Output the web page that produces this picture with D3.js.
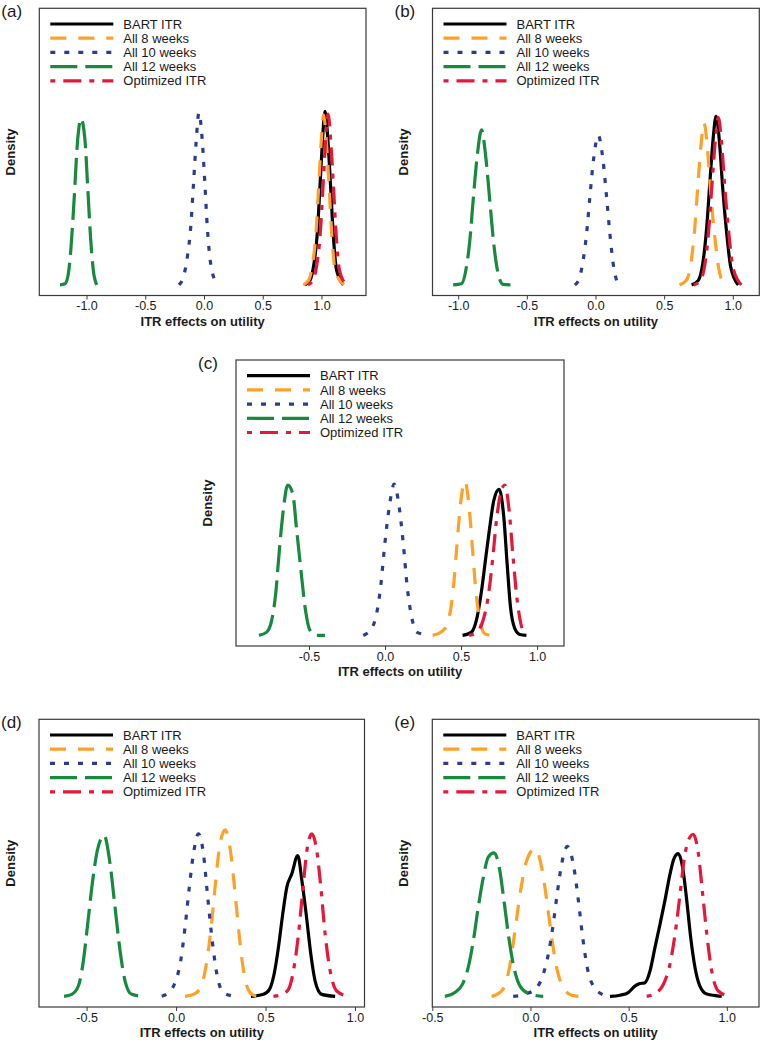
<!DOCTYPE html>
<html><head><meta charset="utf-8">
<script src="https://cdn.jsdelivr.net/npm/d3@7"></script>
<style>body{margin:0;background:#fff}svg{display:block}text{font-family:"Liberation Sans",Arial,sans-serif;fill:#1a1a1a}</style>
</head><body><svg id="chart" width="762" height="1041"></svg>
<script>
const seriesNames = ["BART ITR","All 8 weeks","All 10 weeks","All 12 weeks","Optimized ITR"];
const panelLabels = ["(a)","(b)","(c)","(d)","(e)"];
const xTicksAB = [-1.0,-0.5,0.0,0.5,1.0];
const xTickLabelsAB = ["-1.0","-0.5","0.0","0.5","1.0"];
const xTicksCDE = [-0.5,0.0,0.5,1.0];
const xTickLabelsCDE = ["-0.5","0.0","0.5","1.0"];
const xTitle = "ITR effects on utility";
const yTitle = "Density";

// Panel (a)
const aBartX=[0.860,0.902,0.936,0.964,0.987,1.007,1.030,1.055,1.078,1.100,1.129,1.186];
const aBartY=[0,0.20,0.95,2.30,4.41,6.37,7.83,6.50,4.41,2.30,0.65,0];
const aW8X=[0.845,0.890,0.924,0.952,0.975,0.995,1.018,1.043,1.066,1.088,1.117,1.190];
const aW8Y=[0,0.20,0.93,2.25,4.32,6.24,7.67,6.37,4.32,2.25,0.64,0];
const aW10X=[-0.213,-0.176,-0.142,-0.113,-0.091,-0.068,-0.043,-0.017,0.006,0.028,0.057,0.113];
const aW10Y=[0,0.35,1.25,2.61,4.41,6.37,7.77,6.67,4.71,2.61,0.95,0];
const aW12X=[-1.226,-1.183,-1.155,-1.132,-1.106,-1.078,-1.047,-1.013,-0.990,-0.964,-0.942,-0.913];
const aW12Y=[0,0.05,0.50,1.70,3.81,6.37,7.50,6.52,4.41,2.01,0.65,0];
const aOptX=[0.885,0.927,0.961,0.989,1.012,1.032,1.055,1.080,1.103,1.125,1.154,1.214];
const aOptY=[0,0.20,0.94,2.27,4.34,6.27,7.71,6.40,4.34,2.27,0.64,0];
// Panel (b)
const bBartX=[0.700,0.749,0.781,0.810,0.834,0.858,0.878,0.902,0.926,0.956,0.985,1.040];
const bBartY=[0,0.17,0.79,2.17,3.93,5.56,6.34,5.43,3.68,1.92,0.67,0];
const bW8X=[0.612,0.661,0.693,0.722,0.746,0.770,0.790,0.814,0.838,0.868,0.897,0.935];
const bW8Y=[0,0.16,0.76,2.08,3.77,5.34,6.09,5.21,3.53,1.84,0.64,0];
const bW10X=[-0.150,-0.119,-0.090,-0.065,-0.041,-0.012,0.020,0.052,0.081,0.105,0.129,0.165];
const bW10Y=[0,0.23,0.92,1.92,3.30,4.81,5.62,4.81,3.30,1.92,0.79,0];
const bW12X=[-1.037,-0.976,-0.940,-0.915,-0.891,-0.862,-0.830,-0.799,-0.770,-0.741,-0.709,-0.673,-0.619];
const bW12Y=[0,0.04,0.67,1.67,3.18,4.81,5.83,4.81,3.18,1.55,0.42,0.02,0];
const bOptX=[0.716,0.765,0.797,0.826,0.850,0.874,0.894,0.918,0.942,0.972,1.001,1.062];
const bOptY=[0,0.17,0.78,2.15,3.90,5.51,6.29,5.38,3.65,1.90,0.66,0];
// Panel (c)
const cBartX=[0.510,0.569,0.606,0.635,0.663,0.689,0.716,0.750,0.781,0.803,0.825,0.853,0.886,0.930];
const cBartY=[0,0.10,0.56,1.36,2.37,3.28,4.09,4.41,3.58,2.17,0.86,0.21,0.03,0];
const cW8X=[0.313,0.382,0.422,0.448,0.470,0.497,0.525,0.553,0.576,0.597,0.624,0.656,0.711];
const cW8Y=[0,0.15,0.56,1.36,2.57,3.99,4.67,3.88,2.57,1.36,0.46,0.05,0];
const cW10X=[-0.143,-0.088,-0.055,-0.029,-0.001,0.028,0.060,0.093,0.120,0.146,0.175,0.208,0.295];
const cW10Y=[0,0.21,0.66,1.46,2.78,3.88,4.57,3.88,2.78,1.46,0.56,0.10,0];
const cW12X=[-0.829,-0.778,-0.745,-0.719,-0.695,-0.669,-0.640,-0.607,-0.581,-0.553,-0.526,-0.493,-0.449,-0.395];
const cW12Y=[0,0.10,0.46,1.26,2.57,3.78,4.54,4.29,3.18,1.97,0.86,0.15,0,0];
const cOptX=[0.553,0.602,0.645,0.678,0.707,0.733,0.760,0.788,0.816,0.842,0.869,0.893,0.919];
const cOptY=[0,0.10,0.46,1.16,2.27,3.48,4.29,4.54,3.78,2.37,1.06,0.36,0];
// Panel (d)
const dBartX=[0.418,0.488,0.522,0.548,0.572,0.596,0.619,0.647,0.680,0.703,0.727,0.753,0.777,0.814,0.889];
const dBartY=[0,0.06,0.21,0.67,1.47,2.47,3.28,3.68,4.23,3.48,2.47,1.27,0.46,0.06,0];
const dW8X=[0.050,0.106,0.144,0.172,0.196,0.218,0.240,0.274,0.306,0.330,0.354,0.380,0.414,0.451];
const dW8Y=[0,0.08,0.36,1.07,2.07,3.28,4.38,5.00,4.28,3.08,1.77,0.67,0.11,0];
const dW10X=[-0.080,-0.043,-0.006,0.026,0.050,0.074,0.097,0.125,0.153,0.175,0.200,0.228,0.264,0.330];
const dW10Y=[0,0.11,0.41,1.07,2.07,3.28,4.28,4.88,4.28,3.08,1.77,0.67,0.11,0];
const dW12X=[-0.626,-0.583,-0.546,-0.518,-0.494,-0.466,-0.440,-0.402,-0.369,-0.341,-0.313,-0.285,-0.248,-0.183];
const dW12Y=[0,0.06,0.31,1.07,2.17,3.48,4.38,4.83,3.98,2.67,1.37,0.46,0.06,0];
const dOptX=[0.544,0.591,0.628,0.656,0.684,0.708,0.731,0.759,0.786,0.809,0.833,0.861,0.898,0.963];
const dOptY=[0,0.06,0.21,0.77,1.87,3.18,4.38,4.88,4.38,3.28,1.87,0.77,0.16,0];
// Panel (e)
const eBartX=[0.405,0.456,0.498,0.532,0.554,0.583,0.609,0.634,0.660,0.685,0.711,0.731,0.753,0.775,0.796,0.816,0.838,0.863,0.898,0.974];
const eBartY=[0,0.03,0.10,0.27,0.33,0.36,0.67,1.28,1.90,2.52,3.22,3.62,3.75,3.39,2.52,1.55,0.76,0.27,0.06,0];
const eW8X=[-0.198,-0.155,-0.125,-0.101,-0.079,-0.053,-0.019,0.023,0.057,0.083,0.108,0.133,0.167,0.210,0.244];
const eW8Y=[0,0.10,0.36,0.93,1.72,2.69,3.57,3.88,3.39,2.52,1.55,0.76,0.23,0.03,0];
const eW10X=[-0.088,-0.019,0.032,0.065,0.091,0.116,0.136,0.159,0.188,0.218,0.244,0.266,0.289,0.320,0.363,0.405];
const eW10Y=[0,0.07,0.23,0.58,1.11,1.90,2.69,3.48,3.94,3.48,2.52,1.55,0.76,0.27,0.06,0];
const eW12X=[-0.436,-0.385,-0.346,-0.317,-0.291,-0.266,-0.240,-0.215,-0.186,-0.159,-0.135,-0.113,-0.088,-0.053,-0.003,0.065];
const eW12Y=[0,0.10,0.32,0.76,1.46,2.34,3.13,3.66,3.77,3.39,2.52,1.64,0.85,0.27,0.06,0];
const eOptX=[0.592,0.643,0.685,0.714,0.741,0.762,0.782,0.804,0.829,0.855,0.877,0.898,0.923,0.957,1.016];
const eOptY=[0,0.10,0.41,0.93,1.81,2.69,3.57,4.10,4.26,3.75,2.69,1.64,0.67,0.14,0];

const xDomains = [[-1.402,1.379],[-1.187,1.193],[-0.980,1.177],[-0.766,1.053],[-0.500,1.164]];
const yMax = [12,10,8,8,7];

// ---- styling / layout ----
const colors = ["#000000","#FFA126","#2A3D8F","#178A3E","#E8173A"];
const dashes = [null,"16,12","5,9","27,8","5,8,18,8"];
const drawOrder = [0,1,2,3,4];
const boxes = [
  {l:39.3,t:8.3,r:366,b:295.5},
  {l:432.5,t:8.3,r:759.3,b:295.5},
  {l:236,t:360,r:564,b:646},
  {l:39,t:719.3,r:364.5,b:1007},
  {l:432.3,t:719.3,r:759,b:1007}
];
const zip=(xs,ys)=>xs.map((x,i)=>[x,ys[i]]);
const panels = [
  {series:[zip(aBartX,aBartY),zip(aW8X,aW8Y),zip(aW10X,aW10Y),zip(aW12X,aW12Y),zip(aOptX,aOptY)],ticks:xTicksAB,labels:xTickLabelsAB},
  {series:[zip(bBartX,bBartY),zip(bW8X,bW8Y),zip(bW10X,bW10Y),zip(bW12X,bW12Y),zip(bOptX,bOptY)],ticks:xTicksAB,labels:xTickLabelsAB},
  {series:[zip(cBartX,cBartY),zip(cW8X,cW8Y),zip(cW10X,cW10Y),zip(cW12X,cW12Y),zip(cOptX,cOptY)],ticks:xTicksCDE,labels:xTickLabelsCDE},
  {series:[zip(dBartX,dBartY),zip(dW8X,dW8Y),zip(dW10X,dW10Y),zip(dW12X,dW12Y),zip(dOptX,dOptY)],ticks:xTicksCDE,labels:xTickLabelsCDE},
  {series:[zip(eBartX,eBartY),zip(eW8X,eW8Y),zip(eW10X,eW10Y),zip(eW12X,eW12Y),zip(eOptX,eOptY)],ticks:xTicksCDE,labels:xTickLabelsCDE}
];

const svg = d3.select("#chart");
panels.forEach((p,pi)=>{
  const bx = boxes[pi];
  const x = d3.scaleLinear().domain(xDomains[pi]).range([bx.l,bx.r]);
  const ym = yMax[pi];
  const y = d3.scaleLinear().domain([-0.04*ym,1.04*ym]).range([bx.b,bx.t]);
  const g = svg.append("g");
  const line = d3.line().x(d=>x(d[0])).y(d=>y(d[1])).curve(d3.curveMonotoneX);
  drawOrder.forEach(si=>{
    g.append("path").datum(p.series[si]).attr("d",line)
      .attr("fill","none").attr("stroke",colors[si]).attr("stroke-width",3.2)
      .attr("stroke-dasharray",dashes[si]).attr("stroke-linejoin","round");
  });
  // box
  g.append("rect").attr("x",bx.l).attr("y",bx.t).attr("width",bx.r-bx.l).attr("height",bx.b-bx.t)
    .attr("fill","none").attr("stroke","#3a3a3a").attr("stroke-width",1.2);
  // axis
  const ax = g.append("g").attr("transform",`translate(0,${bx.b})`)
    .call(d3.axisBottom(x).tickValues(p.ticks).tickSize(4).tickPadding(2).tickFormat((d,i)=>p.labels[i]));
  ax.select(".domain").remove();
  ax.selectAll(".tick line").attr("stroke","#3a3a3a");
  ax.selectAll(".tick text").style("font-size","12.5px").style("font-family","'Liberation Sans',Arial,sans-serif").attr("fill","#1a1a1a");
  // titles
  g.append("text").attr("x",(bx.l+bx.r)/2).attr("y",bx.b+30).attr("text-anchor","middle")
    .style("font-size","13px").style("font-weight","bold").text(xTitle);
  g.append("text").attr("transform",`translate(${bx.l-29},${(bx.t+bx.b)/2}) rotate(-90)`)
    .attr("text-anchor","middle").attr("dy","0.35em").style("font-size","13px").style("font-weight","bold").text(yTitle);
  g.append("text").attr("x",bx.l-38).attr("y",bx.t+8.5).style("font-size","17px").text(panelLabels[pi]);
  // legend
  seriesNames.forEach((nm,si)=>{
    const cy = bx.t+15.7+si*14.2;
    g.append("line").attr("x1",bx.l+11).attr("x2",bx.l+74).attr("y1",cy).attr("y2",cy)
      .attr("stroke",colors[si]).attr("stroke-width",3.2).attr("stroke-dasharray",dashes[si]);
    g.append("text").attr("x",bx.l+84).attr("y",cy+4.6).style("font-size","13px").text(nm);
  });
});
</script></body></html>
